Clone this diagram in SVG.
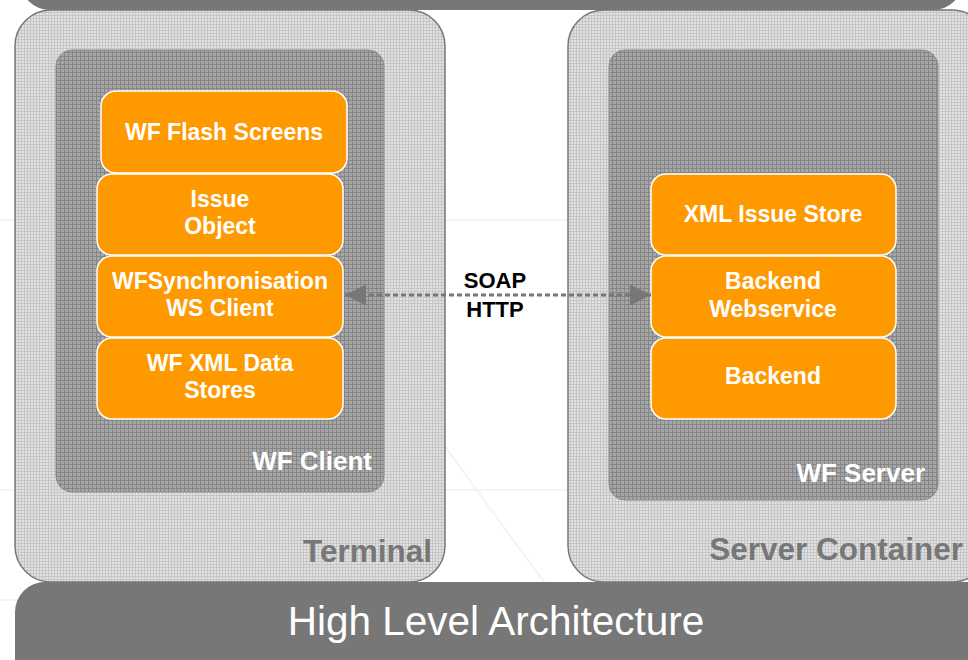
<svg xmlns="http://www.w3.org/2000/svg" width="968" height="660" viewBox="0 0 968 660">
<defs>
<pattern id="gridLight" width="3" height="3" patternUnits="userSpaceOnUse">
<rect width="3" height="3" fill="#e2e2e2"/>
<path d="M0,0.5 H3 M0.5,0 V3" stroke="#c6c6c6" stroke-width="1"/>
</pattern>
<pattern id="gridDark" width="4" height="4" patternUnits="userSpaceOnUse">
<rect width="4" height="4" fill="#a6a6a6"/>
<path d="M0,0.5 H4 M0.5,0 V4" stroke="#858585" stroke-width="1"/>
</pattern>
<marker id="arrowHead" viewBox="0 0 10 10" refX="10" refY="5" markerWidth="31" markerHeight="21" markerUnits="userSpaceOnUse" orient="auto-start-reverse">
<path d="M0,0 L10,5 L0,10 z" fill="#777"/>
</marker>
<style>
text{font-family:"Liberation Sans",Arial,sans-serif;}
.outer{fill:url(#gridLight);stroke:#777;stroke-width:1.5;}
.inner{fill:url(#gridDark);stroke:#8a8a8a;stroke-width:1;}
.box{fill:#ff9900;stroke:#ffffff;stroke-width:1.5;}
.bt{fill:#ffffff;font-weight:bold;font-size:23px;text-anchor:middle;}
.il{fill:#ffffff;font-weight:bold;font-size:26px;text-anchor:end;}
.ol{fill:#777;font-weight:bold;font-size:31.5px;text-anchor:end;}
.proto{fill:#000;font-weight:bold;font-size:22px;text-anchor:middle;}
.bar{fill:#777;}
.bg{stroke:#f1f1f1;stroke-width:1.5;fill:none;}
</style>
</defs>
<rect width="968" height="660" fill="#ffffff"/>
<g id="background-lines">
<path class="bg" d="M0,220 H968 M0,490 H968 M0,600 H968 M440,440 L550,590"/>
</g>
<g id="title-bar-top">
<rect class="bar" x="20" y="-50" width="943" height="60" rx="30"/>
</g>
<g id="terminal">
<rect class="outer" x="15" y="10" width="430" height="572" rx="36"/>
<text class="ol" x="432" y="562">Terminal</text>
</g>
<g id="server-container">
<rect class="outer" x="568" y="10" width="420" height="572" rx="36"/>
<text class="ol" x="963" y="560">Server Container</text>
</g>
<g id="wf-client">
<rect class="inner" x="56" y="50" width="328" height="442" rx="16"/>
<text class="il" x="372" y="470">WF Client</text>
</g>
<g id="wf-server">
<rect class="inner" x="609" y="50" width="329" height="450" rx="16"/>
<text class="il" x="925" y="482">WF Server</text>
</g>
<g id="wf-flash-screens">
<rect class="box" x="101" y="91" width="246" height="82" rx="15"/>
<text class="bt" x="224" y="140">WF Flash Screens</text>
</g>
<g id="issue-object">
<rect class="box" x="97" y="174" width="246" height="81" rx="15"/>
<text class="bt" x="220" y="207">Issue</text>
<text class="bt" x="220" y="234">Object</text>
</g>
<g id="wf-sync-ws-client">
<rect class="box" x="97" y="256" width="246" height="81" rx="15"/>
<text class="bt" x="220" y="289">WFSynchronisation</text>
<text class="bt" x="220" y="316">WS Client</text>
</g>
<g id="wf-xml-data-stores">
<rect class="box" x="97" y="338" width="246" height="81" rx="15"/>
<text class="bt" x="220" y="371">WF XML Data</text>
<text class="bt" x="220" y="398">Stores</text>
</g>
<g id="xml-issue-store">
<rect class="box" x="651" y="174" width="245" height="81" rx="15"/>
<text class="bt" x="773" y="222">XML Issue Store</text>
</g>
<g id="backend-webservice">
<rect class="box" x="651" y="256" width="245" height="81" rx="15"/>
<text class="bt" x="773" y="289">Backend</text>
<text class="bt" x="773" y="317">Webservice</text>
</g>
<g id="backend">
<rect class="box" x="651" y="338" width="245" height="81" rx="15"/>
<text class="bt" x="773" y="384">Backend</text>
</g>
<g id="connectors">
<line x1="345" y1="295" x2="651" y2="295" stroke="#777" stroke-width="3" stroke-dasharray="5 3" marker-start="url(#arrowHead)" marker-end="url(#arrowHead)"/>
<text class="proto" x="495" y="288">SOAP</text>
<text class="proto" x="495" y="317">HTTP</text>
</g>
<g id="title-bar">
<rect class="bar" x="15" y="582" width="990" height="120" rx="30"/>
<text x="496" y="635" fill="#ffffff" font-size="40.5" text-anchor="middle">High Level Architecture</text>
</g>
</svg>
